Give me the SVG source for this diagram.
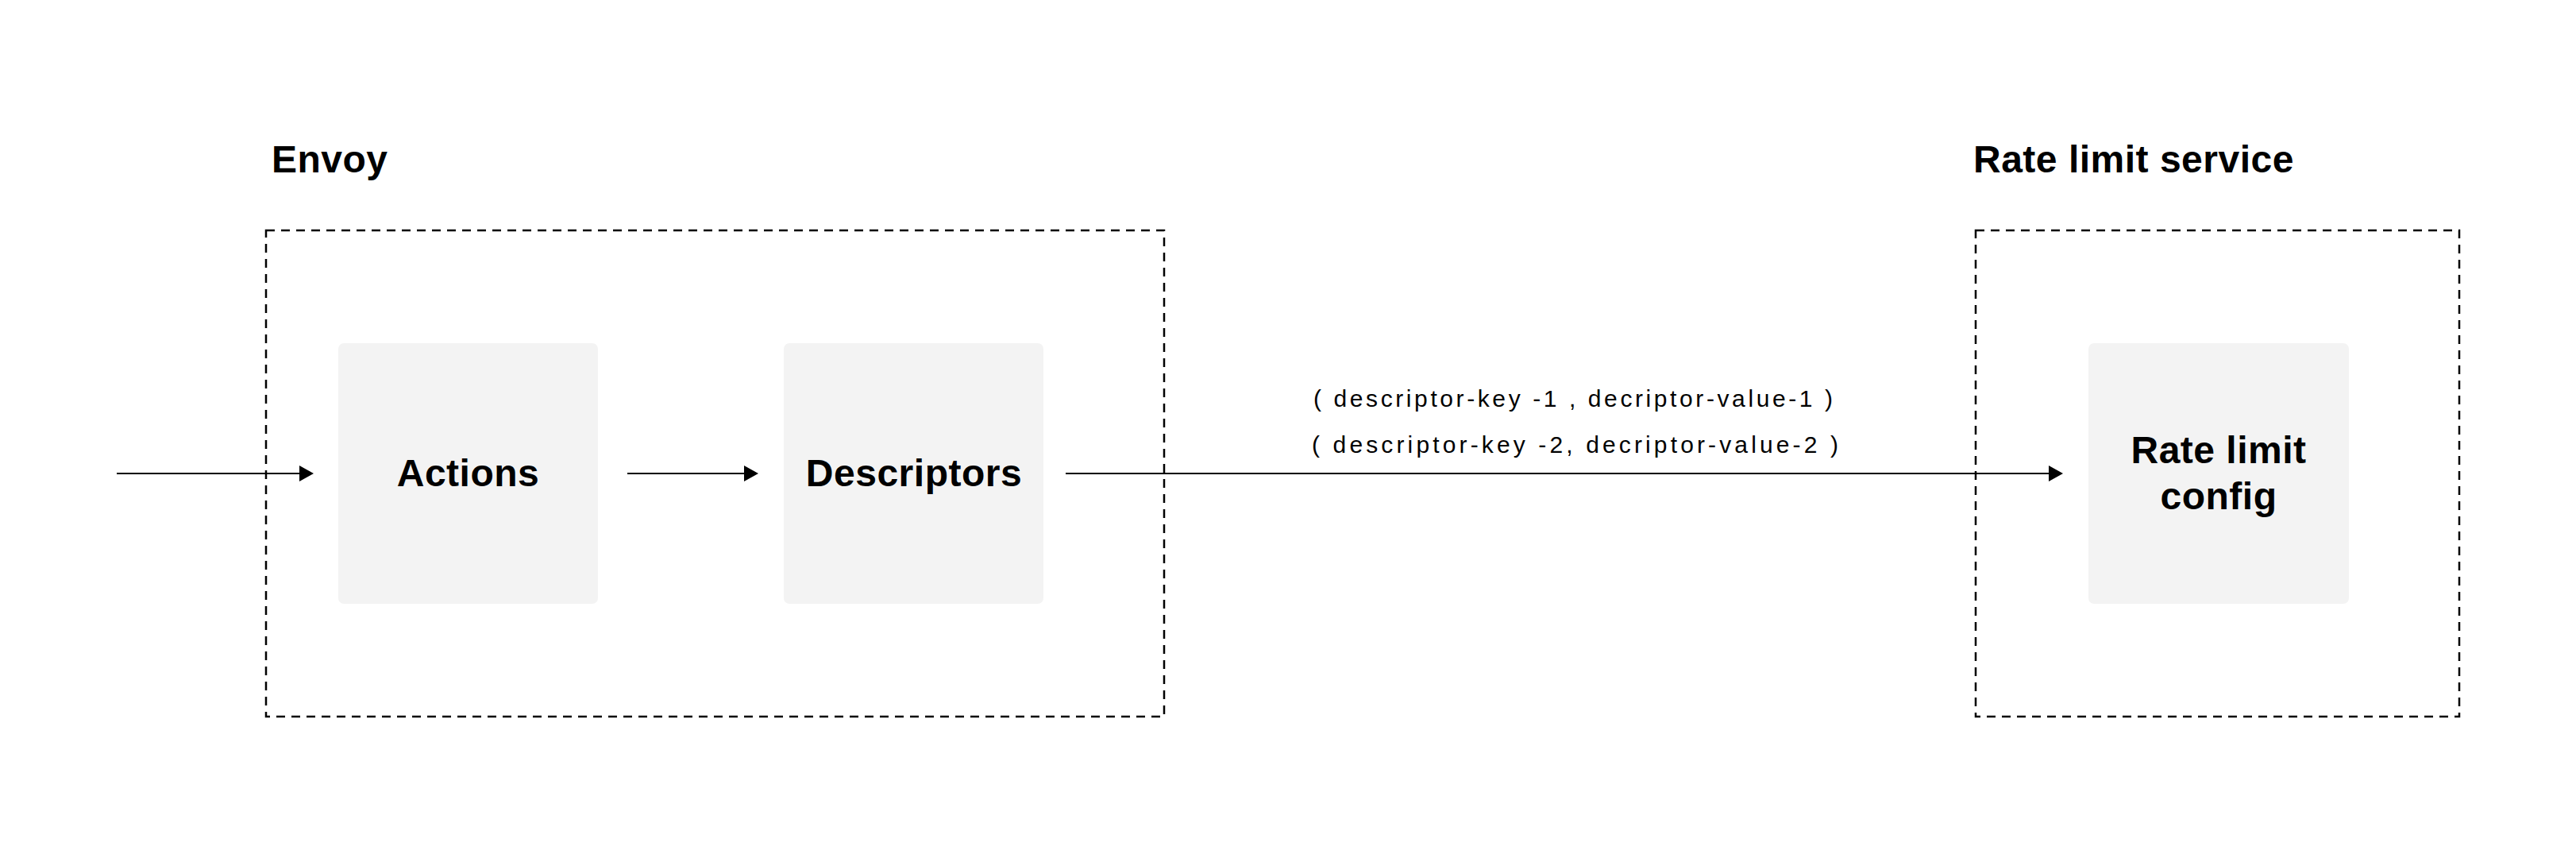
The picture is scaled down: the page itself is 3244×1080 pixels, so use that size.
<svg xmlns="http://www.w3.org/2000/svg" width="3244" height="1080" viewBox="0 0 3244 1080">
<style>
.title{font-family:"Liberation Sans",Arial,sans-serif;font-weight:bold;font-size:48px;fill:#000;letter-spacing:0.5px}
.lbl{font-family:"Liberation Sans",Arial,sans-serif;font-weight:bold;font-size:48px;fill:#000;letter-spacing:0.5px;text-anchor:middle}
.small{font-family:"Liberation Sans",Arial,sans-serif;font-size:30px;fill:#000}
.group{fill:none;stroke:#000;stroke-width:2.5;stroke-dasharray:11 8}
.box{fill:#f3f3f3}
.conn{stroke:#000;stroke-width:2.2;fill:none}
</style>
<defs>
<marker id="arr" markerUnits="userSpaceOnUse" markerWidth="18" markerHeight="20" refX="10" refY="10" orient="auto">
<path d="M0,0 L18,10 L0,20 z" fill="#000"/>
</marker>
</defs>
<rect width="3244" height="1080" fill="#fff"/>
<g id="envoy">
<text class="title" x="342" y="217" font-size="46" letter-spacing="0">Envoy</text>
<rect class="group" x="335" y="290" width="1131" height="612"/>
</g>
<g id="ratelimitservice">
<text class="title" x="2485" y="217">Rate limit service</text>
<rect class="group" x="2488" y="290" width="609" height="612"/>
</g>
<g id="actions">
<rect class="box" x="426" y="432" width="327" height="328" rx="7"/>
<text class="lbl" x="589.5" y="612">Actions</text>
</g>
<g id="descriptors">
<rect class="box" x="987" y="432" width="327" height="328" rx="7"/>
<text class="lbl" x="1151" y="612">Descriptors</text>
</g>
<g id="ratelimitconfig">
<rect class="box" x="2630" y="432" width="328" height="328" rx="7"/>
<text class="lbl" x="2794" y="583">Rate limit</text>
<text class="lbl" x="2794" y="641">config</text>
</g>
<g id="connectors">
<line class="conn" x1="147" y1="596" x2="387" y2="596" marker-end="url(#arr)"/>
<line class="conn" x1="790" y1="596" x2="947" y2="596" marker-end="url(#arr)"/>
<line class="conn" x1="1342" y1="596" x2="2590" y2="596" marker-end="url(#arr)"/>
<text class="small" x="1654" y="512" textLength="654" lengthAdjust="spacing">( descriptor-key -1 , decriptor-value-1 )</text>
<text class="small" x="1652" y="570" textLength="663" lengthAdjust="spacing">( descriptor-key -2, decriptor-value-2 )</text>
</g>
</svg>
